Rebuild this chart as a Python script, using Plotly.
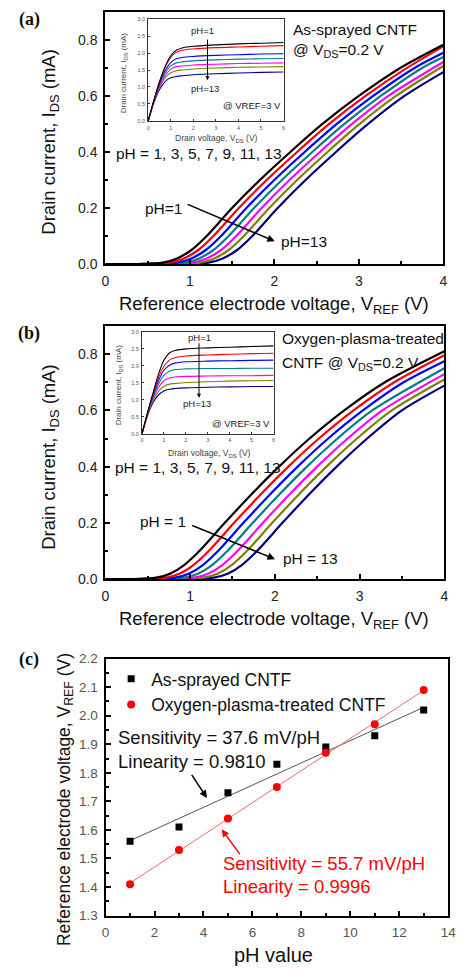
import numpy as np
import plotly.graph_objects as go

# ---------------- data ----------------
PH_VALUES = [1, 3, 5, 7, 9, 11, 13]
CURVE_COLORS = ["#000000", "#ff0000", "#0000ff", "#008080", "#ff00ff", "#808000", "#000080"]

# current levels (mA) at which the VREF crossing of each transfer curve was read
I_LEVELS = [0.005, 0.02, 0.05, 0.1, 0.2, 0.3, 0.4, 0.5, 0.6, 0.7]

# (a) as-sprayed CNTF, transfer curves
A_V_OFF = [0.40, 0.48, 0.57, 0.66, 0.75, 0.84, 0.94]
A_VREF_CROSS = [
    [0.68, 0.85, 1.02, 1.20, 1.50, 1.83, 2.19, 2.57, 3.00, 3.49],
    [0.76, 0.93, 1.10, 1.28, 1.58, 1.91, 2.27, 2.65, 3.08, 3.57],
    [0.85, 1.02, 1.19, 1.37, 1.67, 2.00, 2.36, 2.74, 3.17, 3.66],
    [0.94, 1.11, 1.28, 1.46, 1.76, 2.09, 2.45, 2.83, 3.26, 3.75],
    [1.03, 1.20, 1.37, 1.55, 1.85, 2.18, 2.54, 2.92, 3.35],
    [1.12, 1.29, 1.46, 1.64, 1.94, 2.27, 2.63, 3.01, 3.44],
    [1.22, 1.39, 1.56, 1.74, 2.04, 2.37, 2.73, 3.11, 3.54],
]
A_I_AT_4V = [0.783, 0.777, 0.754, 0.739, 0.721, 0.707, 0.685]

# (b) oxygen-plasma-treated CNTF, transfer curves
B_V_OFF = [0.32, 0.43, 0.54, 0.65, 0.77, 0.88, 1.00]
B_VREF_CROSS = [
    [0.60, 0.77, 0.93, 1.11, 1.41, 1.72, 2.05, 2.41, 2.82, 3.30],
    [0.71, 0.88, 1.04, 1.22, 1.52, 1.83, 2.16, 2.52, 2.93, 3.41],
    [0.82, 0.99, 1.15, 1.33, 1.63, 1.94, 2.27, 2.63, 3.04, 3.52],
    [0.93, 1.10, 1.26, 1.44, 1.74, 2.05, 2.38, 2.74, 3.15],
    [1.05, 1.22, 1.38, 1.56, 1.86, 2.17, 2.50, 2.86, 3.27],
    [1.16, 1.33, 1.49, 1.67, 1.97, 2.28, 2.61, 2.97, 3.38],
    [1.28, 1.45, 1.61, 1.79, 2.09, 2.40, 2.73, 3.09, 3.50],
]
B_I_AT_4V = [0.810, 0.796, 0.775, 0.750, 0.729, 0.710, 0.688]

# insets: output curves at VREF = 3 V
INSET_VDS = [0, 0.25, 0.5, 0.75, 1.0, 1.25, 1.5, 2, 3, 4, 5, 6]
A_INSET_IDS = [
    [0, 0.60, 1.15, 1.60, 1.92, 2.08, 2.15, 2.20, 2.24, 2.27, 2.29, 2.31],
    [0, 0.60, 1.14, 1.57, 1.87, 2.02, 2.08, 2.12, 2.16, 2.18, 2.20, 2.22],
    [0, 0.58, 1.10, 1.48, 1.72, 1.83, 1.87, 1.90, 1.93, 1.95, 1.97, 1.98],
    [0, 0.57, 1.06, 1.41, 1.62, 1.71, 1.74, 1.77, 1.80, 1.82, 1.83, 1.84],
    [0, 0.56, 1.02, 1.34, 1.52, 1.60, 1.62, 1.65, 1.67, 1.69, 1.70, 1.71],
    [0, 0.55, 0.98, 1.27, 1.42, 1.48, 1.50, 1.53, 1.56, 1.58, 1.59, 1.60],
    [0, 0.53, 0.92, 1.16, 1.27, 1.31, 1.33, 1.36, 1.39, 1.41, 1.43, 1.44],
]
B_INSET_IDS = [
    [0, 0.62, 1.20, 1.75, 2.17, 2.38, 2.45, 2.50, 2.53, 2.55, 2.57, 2.59],
    [0, 0.60, 1.16, 1.65, 1.99, 2.17, 2.24, 2.29, 2.32, 2.34, 2.36, 2.37],
    [0, 0.59, 1.12, 1.56, 1.87, 2.02, 2.08, 2.12, 2.14, 2.15, 2.16, 2.17],
    [0, 0.58, 1.08, 1.46, 1.72, 1.84, 1.89, 1.91, 1.92, 1.92, 1.93, 1.93],
    [0, 0.57, 1.03, 1.36, 1.56, 1.64, 1.67, 1.69, 1.70, 1.71, 1.71, 1.72],
    [0, 0.55, 0.97, 1.25, 1.40, 1.46, 1.48, 1.51, 1.53, 1.55, 1.56, 1.57],
    [0, 0.53, 0.91, 1.14, 1.26, 1.31, 1.33, 1.35, 1.37, 1.38, 1.39, 1.39],
]

# (c) VREF vs pH
C_PH = [1, 3, 5, 7, 9, 11, 13]
C_VREF_AS = [1.56, 1.61, 1.73, 1.83, 1.89, 1.93, 2.02]
C_VREF_O2 = [1.41, 1.53, 1.64, 1.75, 1.87, 1.97, 2.09]

# ---------------- figure ----------------
W, H = 463, 979
FONT = "Liberation Sans, Arial, sans-serif"


def dx(p):
    return p / W


def dy(p):
    return 1 - p / H


fig = go.Figure()

# transfer curves
for cross_all, off_all, end_all, xa, ya in [
        (A_VREF_CROSS, A_V_OFF, A_I_AT_4V, "x", "y"),
        (B_VREF_CROSS, B_V_OFF, B_I_AT_4V, "x3", "y3")]:
    for i in reversed(range(len(PH_VALUES))):
        cross = cross_all[i]
        xs = [0.0, off_all[i]] + cross + [4.0]
        ys = [0.0, 0.0] + I_LEVELS[:len(cross)] + [end_all[i]]
        fig.add_trace(go.Scatter(x=xs, y=ys, mode="lines", xaxis=xa, yaxis=ya,
                                 line=dict(color=CURVE_COLORS[i], width=2.2, shape="spline", smoothing=0.8),
                                 showlegend=False, hoverinfo="skip"))

# inset output curves
for ids_all, xa, ya in [(A_INSET_IDS, "x2", "y2"), (B_INSET_IDS, "x4", "y4")]:
    for i in reversed(range(len(PH_VALUES))):
        fig.add_trace(go.Scatter(x=INSET_VDS, y=ids_all[i], mode="lines", xaxis=xa, yaxis=ya,
                                 line=dict(color=CURVE_COLORS[i], width=1.1, shape="spline", smoothing=0.8),
                                 showlegend=False, hoverinfo="skip"))

# (c) fits + points
fit_as = np.polyfit(C_PH, C_VREF_AS, 1)
fit_o2 = np.polyfit(C_PH, C_VREF_O2, 1)
fx = np.array([C_PH[0], C_PH[-1]])
fig.add_trace(go.Scatter(x=fx, y=np.polyval(fit_as, fx), mode="lines", xaxis="x5", yaxis="y5",
                         line=dict(color="#555555", width=1), showlegend=False, hoverinfo="skip"))
fig.add_trace(go.Scatter(x=fx, y=np.polyval(fit_o2, fx), mode="lines", xaxis="x5", yaxis="y5",
                         line=dict(color="#f26b6b", width=1), showlegend=False, hoverinfo="skip"))
fig.add_trace(go.Scatter(x=C_PH, y=C_VREF_AS, mode="markers", xaxis="x5", yaxis="y5",
                         name="As-sprayed CNTF",
                         marker=dict(symbol="square", size=7, color="black")))
fig.add_trace(go.Scatter(x=C_PH, y=C_VREF_O2, mode="markers", xaxis="x5", yaxis="y5",
                         name="Oxygen-plasma-treated CNTF",
                         marker=dict(symbol="circle", size=8, color="#ff0000")))


def main_axis(**kw):
    d = dict(showline=True, linecolor="black", linewidth=2, mirror=True,
             ticks="inside", ticklen=5, tickwidth=1.5, tickcolor="black",
             showgrid=False, zeroline=False, ticklabelstandoff=3,
             tickfont=dict(family=FONT, size=14, color="#222"))
    d.update(kw)
    return d


def inset_axis(**kw):
    d = dict(showline=True, linecolor="#333", linewidth=1, mirror=True,
             ticks="inside", ticklen=2, tickwidth=0.8, tickcolor="#333",
             showgrid=False, zeroline=False, ticklabelstandoff=1,
             tickfont=dict(family=FONT, size=5.5, color="#555"))
    d.update(kw)
    return d


fig.update_layout(
    width=W, height=H, margin=dict(l=0, r=0, t=0, b=0),
    paper_bgcolor="white", plot_bgcolor="white",
    font=dict(family=FONT, color="#111"),
    xaxis=main_axis(domain=[dx(104), dx(451)], range=[0, 4], dtick=1, anchor="y",
                    minor=dict(ticks="inside", ticklen=3, dtick=0.5, tickcolor="black")),
    yaxis=main_axis(domain=[dy(261), dy(5)], range=[0, 0.9], dtick=0.2, tickformat=".1f", anchor="x",
                    minor=dict(ticks="inside", ticklen=3, dtick=0.1, tickcolor="black")),
    xaxis2=inset_axis(domain=[dx(148), dx(287)], range=[0, 6], dtick=1, anchor="y2"),
    yaxis2=inset_axis(domain=[dy(115.7), dy(12.3)], range=[0, 3], dtick=0.5, tickformat=".1f", anchor="x2"),
    xaxis3=main_axis(domain=[dx(104), dx(452)], range=[0, 4], dtick=1, anchor="y3",
                     minor=dict(ticks="inside", ticklen=3, dtick=0.5, tickcolor="black")),
    yaxis3=main_axis(domain=[dy(581), dy(324)], range=[0, 0.9], dtick=0.2, tickformat=".1f", anchor="x3",
                     minor=dict(ticks="inside", ticklen=3, dtick=0.1, tickcolor="black")),
    xaxis4=inset_axis(domain=[dx(141.7), dx(276.7)], range=[0, 6], dtick=1, anchor="y4"),
    yaxis4=inset_axis(domain=[dy(433.3), dy(330)], range=[0, 3], dtick=0.5, tickformat=".1f", anchor="x4"),
    xaxis5=main_axis(domain=[dx(104.3), dx(456)], range=[0, 14], dtick=2, anchor="y5",
                     tickfont=dict(family=FONT, size=13.5, color="#555"),
                     minor=dict(ticks="inside", ticklen=3, dtick=1, tickcolor="black")),
    yaxis5=main_axis(domain=[dy(922.7), dy(661.7)], range=[1.3, 2.2], dtick=0.1, tickformat=".1f", anchor="x5",
                     tickfont=dict(family=FONT, size=13.5, color="#555"),
                     minor=dict(ticks="inside", ticklen=3, dtick=0.05, tickcolor="black")),
    legend=dict(x=dx(110), y=dy(664), xanchor="left", yanchor="top",
                font=dict(family=FONT, size=17.5, color="#111"),
                bgcolor="rgba(0,0,0,0)", tracegroupgap=0, itemwidth=30),
)

ann = []


def text(t, x, y, xref="paper", yref="paper", size=15.5, color="#111", xanchor="center",
         angle=0, family=FONT):
    ann.append(dict(text=t, x=x, y=y, xref=xref, yref=yref, showarrow=False,
                    xanchor=xanchor, yanchor="middle", textangle=angle,
                    font=dict(family=family, size=size, color=color)))


def arrow(x, y, ax, ay, xref, yref, color="black", width=1.5, head=2, size=1):
    ann.append(dict(text="", x=x, y=y, ax=ax, ay=ay, xref=xref, yref=yref, axref=xref, ayref=yref,
                    showarrow=True, arrowhead=head, arrowsize=size, arrowwidth=width,
                    arrowcolor=color, standoff=0, startstandoff=0))


# panel labels
SERIF = "Liberation Serif, Times New Roman, serif"
text("<b>(a)</b>", dx(26), dy(13), size=18, family=SERIF)
text("<b>(b)</b>", dx(26), dy(332), size=18, family=SERIF)
text("<b>(c)</b>", dx(26), dy(663), size=18, family=SERIF)

# axis titles
YT = "Drain current, I<sub>DS</sub> (mA)"
XT = "Reference electrode voltage, V<sub>REF</sub> (V)"
text(YT, dx(47), dy(137), size=18.5, angle=-90)
text(XT, dx(277), dy(303), size=18.5)
text(YT, dx(47), dy(457), size=18.5, angle=-90)
text(XT, dx(277), dy(623), size=18.5)
text(XT, dx(63), dy(805), size=17.5, angle=-90)
text("pH value", dx(277), dy(963), size=20)

# inset titles
text("Drain voltage, V<sub>DS</sub> (V)", dx(218), dy(134), size=8.5, color="#444")
text("Drain current, I<sub>DS</sub> (mA)", dx(124), dy(66.5), size=8, color="#444", angle=-90)
text("Drain voltage, V<sub>DS</sub> (V)", dx(210.7), dy(453.5), size=8.5, color="#444")
text("Drain current, I<sub>DS</sub> (mA)", dx(118.3), dy(384), size=8, color="#444", angle=-90)

# panel (a) annotations
text("As-sprayed CNTF", 2.20, 0.839, "x", "y", xanchor="left")
text("@ V<sub>DS</sub>=0.2 V", 2.20, 0.762, "x", "y", xanchor="left")
text("pH = 1, 3, 5, 7, 9, 11, 13", 0.107, 0.395, "x", "y", xanchor="left")
text("pH=1", 0.45, 0.198, "x", "y", xanchor="left")
text("pH=13", 2.05, 0.081, "x", "y", xanchor="left")
arrow(2.006, 0.081, 0.957, 0.215, "x", "y")
text("pH=1", 2.42, 2.65, "x2", "y2", size=9.5, color="#222")
text("pH=13", 2.53, 0.97, "x2", "y2", size=9.5, color="#222")
text("@ VREF=3 V", 4.62, 0.46, "x2", "y2", size=9.5, color="#222")
arrow(2.63, 1.2, 2.63, 2.44, "x2", "y2", width=1, size=0.8)

# panel (b) annotations
text("Oxygen-plasma-treated", 2.06, 0.854, "x3", "y3", xanchor="left")
text("CNTF @ V<sub>DS</sub>=0.2 V", 2.06, 0.766, "x3", "y3", xanchor="left")
text("pH = 1, 3, 5, 7, 9, 11, 13", 0.089, 0.398, "x3", "y3", xanchor="left")
text("pH = 1", 0.39, 0.206, "x3", "y3", xanchor="left")
text("pH = 13", 2.07, 0.073, "x3", "y3", xanchor="left")
arrow(2.003, 0.071, 1.008, 0.193, "x3", "y3")
text("pH=1", 2.6, 2.83, "x4", "y4", size=9.5, color="#222")
text("pH=13", 2.5, 0.9, "x4", "y4", size=9.5, color="#222")
text("@ VREF=3 V", 4.5, 0.29, "x4", "y4", size=9.5, color="#222")
arrow(2.6, 1.06, 2.6, 2.71, "x4", "y4", width=1, size=0.8)

# panel (c) annotations
text("Sensitivity = 37.6 mV/pH", 0.43, 1.923, "x5", "y5", size=18.5, xanchor="left")
text("Linearity = 0.9810", 0.43, 1.840, "x5", "y5", size=18.5, xanchor="left")
text("Sensitivity = 55.7 mV/pH", 4.71, 1.482, "x5", "y5", size=18.5, xanchor="left", color="#ff0000")
text("Linearity = 0.9996", 4.71, 1.401, "x5", "y5", size=18.5, xanchor="left", color="#ff0000")
arrow(4.14, 1.712, 3.48, 1.798, "x5", "y5")
arrow(4.74, 1.602, 5.53, 1.51, "x5", "y5", color="#ff0000")

fig.update_layout(annotations=ann)
fig.write_html("out.html")
